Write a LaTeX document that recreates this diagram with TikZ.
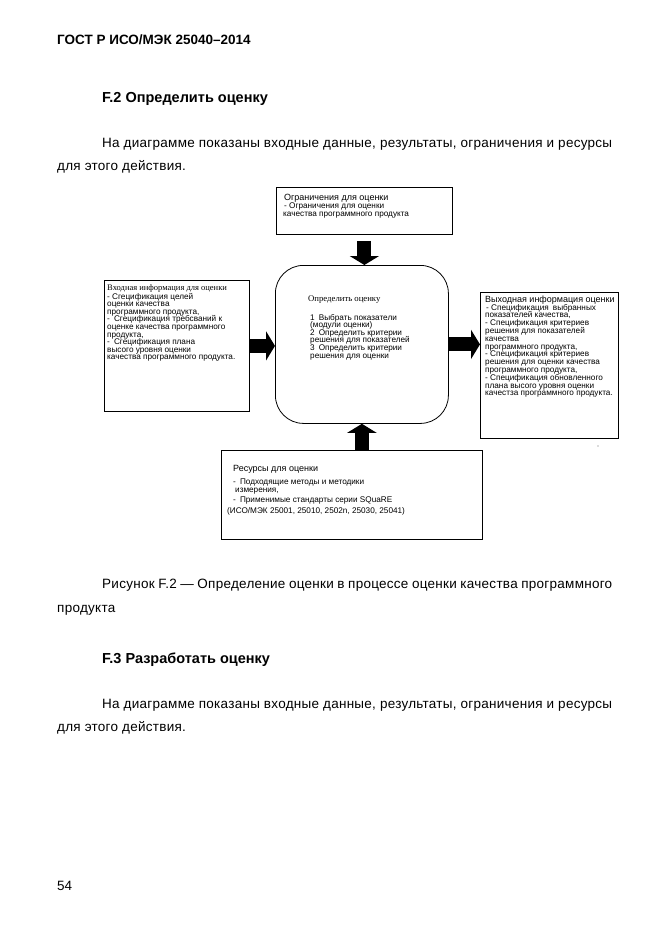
\documentclass[tikz,border=0pt]{standalone}
\usepackage{fontspec}
\setmainfont{Liberation Sans}
\newfontfamily\serifbox{Liberation Serif}
\newfontfamily\bodyfont[LetterSpace=2]{Liberation Sans}
\usetikzlibrary{arrows.meta}

\newcommand{\boxlines}[1]{\parbox[t]{250pt}{\lineskiplimit=-20pt\raggedright #1}}

\begin{document}
\begin{tikzpicture}[x=1pt, y=-1pt]
    \tikzset{
        page/.style={anchor=base west, inner sep=0pt, font=\bodyfont\fontsize{13.5}{16}\selectfont},
        head/.style={anchor=base west, inner sep=0pt, font=\bfseries\fontsize{14.5}{17}\selectfont},
        box/.style={draw, line width=0.8pt, inner sep=0pt, anchor=north west},
        boxtitle/.style={anchor=base west, inner sep=0pt, font=\fontsize{9}{10}\selectfont},
        boxtext/.style={anchor=base west, inner sep=0pt, font=\fontsize{8.2}{#1}\selectfont},
        blockarrow/.style={line width=14pt, -{Triangle[width=29pt, length=9pt]}}
    }
    \useasboundingbox (0,0) rectangle (661,935);

    % page text
    \node[anchor=base west, inner sep=0pt, font=\bfseries\fontsize{13.5}{16}\selectfont] (hdr) at (57,44) {ГОСТ Р ИСО/МЭК 25040–2014};
    \node[head] (sec2) at (102,102) {F.2 Определить оценку};
    \node[page] (p1a) at (102,147) {\makebox[510pt][s]{На диаграмме показаны входные данные, результаты, ограничения и ресурсы}};
    \node[page] (p1b) at (57,170) {для этого действия.};

    % boxes
    \node[box, minimum width=176pt, minimum height=47pt] (lim) at (276,187) {};
    \node[box, minimum width=173pt, minimum height=158pt, rounded corners=28pt] (task) at (275,265) {};
    \node[box, minimum width=145pt, minimum height=131pt] (inp) at (104,280) {};
    \node[box, minimum width=138pt, minimum height=146pt] (out) at (480,292) {};
    \node[box, minimum width=261pt, minimum height=89pt] (res) at (221,450) {};

    % arrows
    \draw[blockarrow] ([yshift=-6pt]lim.south) -- (lim.south |- task.north);
    \draw[blockarrow] (inp.east) -- (inp.east -| task.west);
    \draw[blockarrow] (task.east) -- (task.east -| out.west);
    \draw[blockarrow] (task.south |- res.north) -- (task.south);

    % box texts
    \node[boxtitle] (limT) at (284,200) {Ограничения для оценки};
    \node[boxtext=8.5] (limL) at (283,208) {\boxlines{\hspace*{1pt}- Ограничения для оценки\\качества программного продукта}};

    \node[boxtitle, font=\serifbox\fontsize{8.5}{10}\selectfont] (inpT) at (107,290) {Входная информация для оценки};
    \node[boxtext=7.6] (inpL) at (107,299) {\boxlines{- Сгецификация целей\\оценки качества\\программного продукта,\\-\enspace Сгецификация требсваний к\\оценке качества программного\\продукта,\\-\enspace Сгецификация плана\\высого уровня оценки\\качества программного продукта.}};

    \node[boxtitle, font=\serifbox\fontsize{8.7}{10}\selectfont] (taskT) at (308,301) {Определить оценку};
    \node[boxtext=7.6] (taskL) at (310,320) {\boxlines{1\enspace Выбрать показатели\\(модули оценки)\\2\enspace Определить критерии\\решения для показателей\\3\enspace Определить критерии\\решения для оценки}};

    \node[boxtitle] (outT) at (485,302) {Выходная информация оценки};
    \node[boxtext=7.8] (outL) at (485,310) {\boxlines{\hspace*{1pt}- Спецификация\enspace выбранных\\показателей качества,\\- Спецификация критериев\\решения для показателей\\качества\\программного продукта,\\- Спецификация критериев\\решения для оценки качества\\программного продукта,\\- Спецификация обновленного\\плана высого уровня оценки\\качестза программного продукта.}};

    \node[boxtitle] (resT) at (233,471) {Ресурсы для оценки};
    \node[boxtext=8] (resL) at (227,484) {\boxlines{\hspace*{6pt}-\enspace Подходящие методы и методики\\\hspace*{8pt}измерения,\\[2pt]\hspace*{6pt}-\enspace Применимые стандарты серии SQuaRE\\[3pt](ИСО/МЭК 25001, 25010, 2502n, 25030, 25041)}};

    \fill[black!60] (598,446) circle (0.7pt);

    % caption and next section
    \node[page] (capA) at (102,588) {\makebox[510pt][s]{Рисунок F.2 — Определение оценки в процессе оценки качества программного}};
    \node[page] (capB) at (57,612) {продукта};
    \node[head] (sec3) at (102,663) {F.3 Разработать оценку};
    \node[page] (p2a) at (102,708) {\makebox[510pt][s]{На диаграмме показаны входные данные, результаты, ограничения и ресурсы}};
    \node[page] (p2b) at (57,731) {для этого действия.};
    \node[page, font=\fontsize{13.5}{16}\selectfont] (pnum) at (57,890) {54};
\end{tikzpicture}
\end{document}
